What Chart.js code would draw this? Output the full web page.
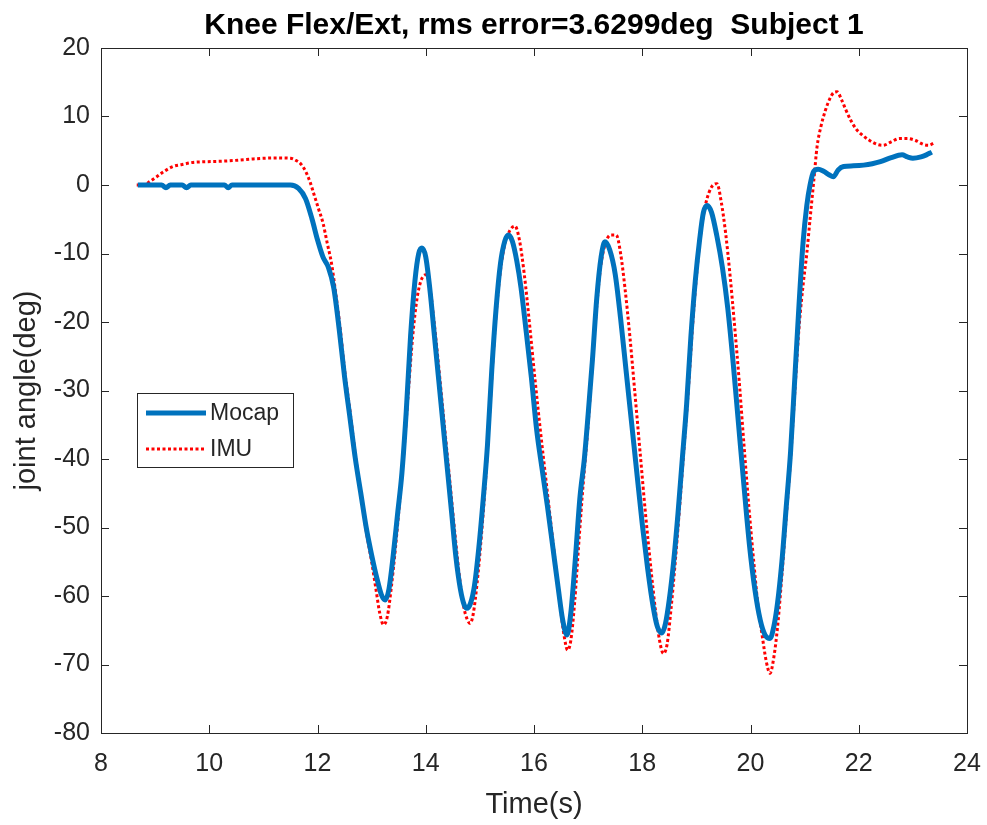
<!DOCTYPE html>
<html>
<head>
<meta charset="utf-8">
<script src="https://cdn.jsdelivr.net/npm/chart.js@4.4.1/dist/chart.umd.min.js"></script>
<style>
  html, body { margin: 0; padding: 0; background: #fff; }
  #wrap { width: 987px; height: 825px; }
</style>
</head>
<body>
<div id="wrap"><canvas id="chart"></canvas></div>
<script>
const chartTitle = 'Knee Flex/Ext, rms error=3.6299deg  Subject 1';
const xTicks = [8, 10, 12, 14, 16, 18, 20, 22, 24];
const yTicks = [-80, -70, -60, -50, -40, -30, -20, -10, 0, 10, 20];

// Mocap (blue, solid)
const mocapTime = [8.68, 9.0, 9.12, 9.2, 9.28, 9.5, 9.58, 9.66, 10.0, 10.28, 10.35, 10.42, 11.0, 11.5, 11.65, 11.78, 11.9, 12.0, 12.1, 12.2,
  12.3, 12.4, 12.5, 12.6, 12.7, 12.8, 12.9, 13.0, 13.1, 13.18, 13.25,
  13.32, 13.4, 13.48, 13.56, 13.64, 13.72, 13.8, 13.87, 13.93,
  14.0, 14.08, 14.16, 14.24, 14.32, 14.4, 14.48, 14.56, 14.64, 14.71, 14.76,
  14.83, 14.9, 14.98, 15.06, 15.14, 15.22, 15.3, 15.38, 15.46, 15.53,
  15.6, 15.68, 15.76, 15.85, 15.95, 16.05, 16.15, 16.25, 16.35, 16.45, 16.53, 16.61,
  16.68, 16.76, 16.85, 16.93, 17.0, 17.08, 17.16, 17.24, 17.31,
  17.4, 17.5, 17.6, 17.7, 17.8, 17.9, 18.0, 18.1, 18.2, 18.28, 18.36,
  18.43, 18.5, 18.58, 18.66, 18.74, 18.82, 18.9, 18.98, 19.06, 19.13, 19.2,
  19.28, 19.38, 19.48, 19.58, 19.68, 19.78, 19.88, 19.98, 20.08, 20.18, 20.27, 20.36,
  20.43, 20.5, 20.58, 20.66, 20.74, 20.82, 20.9, 20.97, 21.04, 21.1, 21.17,
  21.25, 21.35, 21.45, 21.53, 21.62, 21.72, 21.9, 22.09, 22.25, 22.4, 22.6, 22.8, 22.9, 23.0,
  23.15, 23.25, 23.35];
const mocapAngle = [0, 0, 0, -0.4, 0, 0, -0.4, 0, 0, 0, -0.4, 0, 0, 0, -0.5, -2, -5, -8, -10.5, -12,
  -15, -21, -28, -34, -40, -45, -50, -54, -57.5, -59.8, -60.6,
  -59, -54, -48, -42, -33, -22, -14, -10, -9.2,
  -10.5, -15.5, -22, -28.5, -35, -41.5, -48, -54.5, -59, -61.3, -61.8,
  -61, -58.5, -53, -46, -38, -27, -18, -11.5, -8.2, -7.3,
  -8.2, -11, -15, -21, -28, -35.8, -41.5, -47, -53, -59, -63.5, -65.7,
  -62.5, -55, -45.5, -40, -33.5, -25.5, -16.5, -10.5, -8.3,
  -9.5, -13, -19.5, -27, -34.5, -42, -49.5, -56, -61.5, -64.5, -65.4,
  -64, -60.5, -55, -48, -40, -32, -22, -14, -8, -4, -3,
  -4, -7.5, -12, -18, -26, -35, -44, -52.5, -59, -63.5, -65.7, -66.2,
  -64.5, -61, -55, -47, -39, -28, -17, -8.5, -3, 0, 2,
  2.3, 2, 1.5, 1.2, 2.2, 2.7, 2.8, 2.9, 3.1, 3.4, 4, 4.4, 4.1, 3.9,
  4.1, 4.4, 4.8];

// IMU (red, dotted)
const imuTime = [8.66, 8.8, 8.9, 9.03, 9.15, 9.33, 9.5, 9.7, 9.95, 10.3, 10.57, 10.8, 11.0, 11.3, 11.5, 11.6,
  11.7, 11.78, 11.86, 11.94, 12.02, 12.1, 12.18, 12.26, 12.34, 12.42, 12.5, 12.6, 12.7, 12.8, 12.9,
  13.0, 13.08, 13.15, 13.22, 13.29, 13.36, 13.44, 13.52, 13.6, 13.68, 13.76, 13.84, 13.92,
  14.0, 14.07, 14.14, 14.22, 14.3, 14.38, 14.46, 14.54, 14.62, 14.7, 14.77, 14.82,
  14.88, 14.95, 15.03, 15.11, 15.19, 15.27, 15.35, 15.45, 15.55, 15.65,
  15.73, 15.82, 15.92, 16.02, 16.12, 16.22, 16.32, 16.42, 16.5, 16.56, 16.62,
  16.68, 16.75, 16.83, 16.91, 16.99, 17.07, 17.15, 17.23, 17.32, 17.42, 17.52,
  17.6, 17.68, 17.77, 17.86, 17.96, 18.06, 18.16, 18.25, 18.32, 18.39,
  18.46, 18.53, 18.61, 18.69, 18.77, 18.85, 18.93, 19.01, 19.09, 19.18, 19.28, 19.38,
  19.46, 19.54, 19.62, 19.7, 19.79, 19.88, 19.97, 20.06, 20.14, 20.22, 20.29, 20.36,
  20.43, 20.5, 20.58, 20.66, 20.74, 20.82, 20.9, 20.98, 21.04, 21.1, 21.17, 21.23, 21.3,
  21.38, 21.46, 21.54, 21.6, 21.68, 21.76, 21.85, 21.95, 22.05, 22.2, 22.35, 22.45,
  22.6, 22.75, 22.9, 23.05, 23.2, 23.3, 23.38];
const imuAngle = [0, 0, 0.5, 1.2, 1.9, 2.7, 3.0, 3.3, 3.4, 3.5, 3.65, 3.8, 3.9, 3.95, 3.9, 3.6,
  3.0, 2.0, 0.5, -1.5, -3.5, -5.5, -8.5, -11.5, -16, -21, -27, -33, -39.5, -45, -50.5,
  -55, -59, -62.5, -64.2, -63, -59, -53, -46, -38.5, -30, -22, -16.5, -13.8,
  -13.1, -14.5, -19, -25, -31.5, -38, -44.5, -51, -57, -61.5, -63.5, -64,
  -62.5, -58, -51, -42.5, -32, -22, -14.5, -9, -6.7, -6,
  -8, -13, -20.5, -28.5, -36, -43, -50, -57, -62.5, -66, -67.9,
  -66.5, -61, -52, -43.5, -36, -27, -18.5, -12, -8.5, -7.3, -7.3,
  -10, -15, -22, -30, -39, -48, -56, -62.5, -66.5, -68.4,
  -67, -62, -55, -47, -38.5, -30, -20.5, -12.5, -6.5, -2.5, -0.3, 0.2,
  -2.5, -7, -13, -20, -28.5, -38, -47, -55, -61.5, -66, -69.5, -71.3,
  -69, -64.5, -57, -48.5, -40, -30, -20.5, -14, -10, -5, 0.7, 5.6, 8.5,
  10.8, 12.5, 13.5, 13.6, 12.5, 11, 9.5, 8.2, 7.4, 6.5, 5.9, 5.8,
  6.3, 6.8, 6.8, 6.5, 5.9, 5.8, 6.1];

const axisColor = '#262626';
const fontFamily = '"Liberation Sans", Arial, Helvetica, sans-serif';

// inside tick marks + full box, MATLAB style
const boxTicks = {
  id: 'boxTicks',
  afterDatasetsDraw(chart) {
    const { ctx, chartArea: a, scales } = chart;
    const len = 8;
    ctx.save();
    ctx.strokeStyle = axisColor;
    ctx.lineWidth = 1;
    ctx.beginPath();
    xTicks.forEach(v => {
      const px = Math.round(scales.x.getPixelForValue(v)) + 0.5;
      ctx.moveTo(px, a.bottom); ctx.lineTo(px, a.bottom - len);
      ctx.moveTo(px, a.top); ctx.lineTo(px, a.top + len);
    });
    yTicks.forEach(v => {
      const py = Math.round(scales.y.getPixelForValue(v)) + 0.5;
      ctx.moveTo(a.left, py); ctx.lineTo(a.left + len, py);
      ctx.moveTo(a.right, py); ctx.lineTo(a.right - len, py);
    });
    ctx.stroke();
    ctx.strokeRect(Math.round(a.left) + 0.5, Math.round(a.top) + 0.5,
      Math.round(a.right - a.left), Math.round(a.bottom - a.top));
    ctx.restore();
  }
};

// title centred over the axes, like MATLAB
const axesTitle = {
  id: 'axesTitle',
  afterDraw(chart) {
    const { ctx, chartArea: a } = chart;
    ctx.save();
    ctx.font = 'bold 30px ' + fontFamily;
    ctx.fillStyle = '#000';
    ctx.textAlign = 'center';
    ctx.textBaseline = 'alphabetic';
    ctx.fillText(chartTitle, (a.left + a.right) / 2, 34);
    ctx.restore();
  }
};

// legend box inside the axes
const insideLegend = {
  id: 'insideLegend',
  afterDraw(chart) {
    const { ctx } = chart;
    const x = 137, y = 393, w = 156, h = 74;
    ctx.save();
    ctx.fillStyle = '#fff';
    ctx.fillRect(x, y, w, h);
    ctx.strokeStyle = axisColor;
    ctx.lineWidth = 1;
    ctx.strokeRect(x + 0.5, y + 0.5, w, h);
    ctx.font = '23px ' + fontFamily;
    ctx.textBaseline = 'middle';
    chart.data.datasets.forEach((ds, i) => {
      const ly = y + 20 + i * 36;
      ctx.strokeStyle = ds.borderColor;
      ctx.lineWidth = ds.borderWidth;
      ctx.setLineDash(ds.borderDash || []);
      ctx.beginPath();
      ctx.moveTo(x + 9, ly);
      ctx.lineTo(x + 69, ly);
      ctx.stroke();
      ctx.setLineDash([]);
      ctx.fillStyle = axisColor;
      ctx.fillText(ds.label, x + 73, ly + 1);
    });
    ctx.restore();
  }
};

new Chart(document.getElementById('chart'), {
  type: 'line',
  data: {
    datasets: [{
      label: 'Mocap',
      data: mocapTime.map((t, i) => ({ x: t, y: mocapAngle[i] })),
      borderColor: '#0072BD',
      borderWidth: 5,
      pointRadius: 0,
      cubicInterpolationMode: 'monotone',
      fill: false
    }, {
      label: 'IMU',
      data: imuTime.map((t, i) => ({ x: t, y: imuAngle[i] })),
      borderColor: '#FF0000',
      borderWidth: 3,
      borderDash: [3, 2.5],
      pointRadius: 0,
      cubicInterpolationMode: 'monotone',
      fill: false
    }]
  },
  options: {
    responsive: true,
    maintainAspectRatio: false,
    animation: false,
    layout: { padding: { left: 0, right: 20, top: 48, bottom: 0 } },
    plugins: {
      legend: { display: false },
      tooltip: { enabled: false },
      title: { display: false }
    },
    scales: {
      x: {
        type: 'linear',
        min: 8, max: 24,
        afterBuildTicks: s => { s.ticks = xTicks.map(v => ({ value: v })); },
        afterFit: s => { s.height = 92; s.paddingLeft = 0; s.paddingRight = 0; },
        grid: { display: false, drawTicks: false },
        border: { display: false },
        ticks: { color: axisColor, padding: 16, font: { family: fontFamily, size: 25 }, maxRotation: 0 },
        title: {
          display: true, text: 'Time(s)', color: axisColor,
          font: { family: fontFamily, size: 29, lineHeight: 1.2 },
          padding: { top: 0, bottom: 3 }
        }
      },
      y: {
        type: 'linear',
        min: -80, max: 20,
        afterBuildTicks: s => { s.ticks = yTicks.map(v => ({ value: v })); },
        afterFit: s => { s.width = 101; },
        grid: { display: false, drawTicks: false },
        border: { display: false },
        ticks: { color: axisColor, padding: 11, font: { family: fontFamily, size: 25 } },
        title: {
          display: true, text: 'joint angle(deg)', color: axisColor,
          font: { family: fontFamily, size: 29, lineHeight: 1.2 },
          padding: { top: 10, bottom: 0 }
        }
      }
    }
  },
  plugins: [boxTicks, axesTitle, insideLegend]
});
</script>
</body>
</html>
